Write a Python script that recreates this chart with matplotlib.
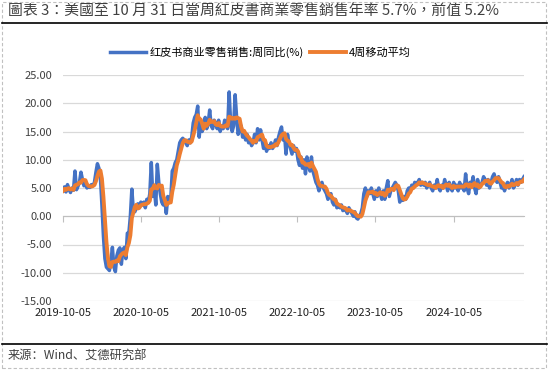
import numpy as np
import pandas as pd
import matplotlib
matplotlib.use('Agg')
import matplotlib.pyplot as plt
from matplotlib.patches import Rectangle
from matplotlib.lines import Line2D

plt.rcParams['font.family'] = ['Noto Sans CJK SC', 'DejaVu Sans']

# 数据: 红皮书商业零售销售周同比 (%), 每周一个点, 起始 2019-10-05
start_date = '2019-10-05'
redbook_yoy = [
    4.5, 5.2, 4.3, 5.6, 4.8, 4.2, 5.0, 4.6, 8.0, 4.7, 5.3, 6.0, 7.8,
    6.5, 5.4, 5.8, 5.0, 5.3, 5.1, 5.6, 5.4, 6.0, 7.8, 9.3, 8.5, 6.8,
    2.0, -3.5, -7.5, -9.0, -9.3, -9.6, -8.0, -5.5, -9.0, -9.8, -7.0, -6.0, -5.6,
    -8.5, -6.0, -5.5, -7.5, -3.0, -3.0, 0.0, 4.8, 1.0, 0.8, 1.5, 2.2, 1.5,
    2.5, 2.0, 2.5, 1.5, 3.0, 2.5, 4.0, 9.5, 3.5, 5.0, 2.0, 9.2, 6.0,
    4.0, 2.5, 2.0, 3.0, 0.5, 3.5, 2.8, 3.0, 8.0, 8.5, 9.5, 10.0, 11.5,
    13.0, 13.5, 13.8, 13.5, 13.0, 12.5, 13.5, 13.0, 14.0, 16.5, 17.5, 18.0, 19.5,
    14.0, 17.0, 15.0, 16.0, 17.5, 15.5, 16.5, 18.8, 16.0, 15.5, 17.0, 16.5, 15.5,
    17.0, 15.0, 16.0, 15.5, 17.0, 16.0, 15.5, 22.0, 16.5, 15.0, 16.0, 21.5, 17.5,
    14.5, 15.5, 16.0, 14.0, 15.0, 13.5, 14.5, 13.0, 13.5, 12.5, 13.0, 14.5, 13.0,
    15.5, 13.5, 15.3, 13.5, 12.0, 13.0, 11.5, 12.5, 12.0, 13.0, 12.0, 12.5, 13.5,
    12.5, 14.0, 15.0, 15.8, 13.5, 14.5, 11.0, 14.5, 13.0, 12.0, 11.0, 12.5, 11.5,
    12.0, 10.0, 9.0, 10.5, 8.5, 10.0, 7.5, 10.5, 9.0, 8.0, 10.5, 8.0, 7.0,
    6.0, 5.5, 4.5, 5.5, 6.0, 5.0, 4.5, 4.0, 3.0, 3.5, 4.0, 2.5, 2.0,
    3.0, 1.5, 1.8, 1.5, 2.0, 1.0, 1.5, 1.0, 0.5, 1.5, 1.0, 0.5, 0.0,
    0.8, -0.3, -0.5, 0.0, 0.5, 1.5, 4.0, 5.0, 3.5, 4.5, 4.0, 5.0, 4.0,
    3.0, 4.5, 3.5, 5.0, 4.0, 3.0, 4.5, 3.0, 5.0, 6.3, 3.5, 4.5, 5.0,
    5.5, 6.0, 5.5, 4.5, 2.5, 3.0, 2.8, 3.5, 3.0, 4.5, 5.0, 4.5, 5.5,
    5.0, 6.0, 5.5, 6.0, 6.5, 5.5, 6.0, 5.5, 6.0, 5.0, 5.5, 6.0, 5.0,
    4.5, 5.5, 5.0, 6.5, 5.0, 4.5, 5.5, 5.0, 6.5, 5.5, 4.5, 6.0, 5.0,
    4.5, 6.0, 5.0, 5.5, 4.5, 6.0, 5.0, 5.5, 4.5, 7.5, 5.0, 4.0, 6.0,
    5.5, 7.0, 5.0, 4.0, 6.5, 5.0, 5.5, 6.0, 7.0, 6.5, 5.5, 6.5, 5.0,
    6.0, 7.0, 7.5, 6.5, 6.0, 7.0, 6.0, 5.0, 5.5, 4.5, 5.5, 6.0, 5.0,
    5.5, 6.5, 5.0, 5.5, 6.5, 5.5, 6.5, 6.0, 6.5, 7.0,
]
tick_labels = ['2019-10-05', '2020-10-05', '2021-10-05', '2022-10-05', '2023-10-05', '2024-10-05']
y_ticks = [25, 20, 15, 10, 5, 0, -5, -10, -15]

dates = pd.date_range(start_date, periods=len(redbook_yoy), freq='7D')
s = pd.Series(redbook_yoy, index=dates)
ma4 = s.rolling(4, min_periods=1).mean()  # 4周移动平均

fig = plt.figure(figsize=(5.49, 3.70), dpi=100)
ax = fig.add_axes([63/549, 1-301/370, (524-63)/549, (301-75)/370])

ax.plot(dates, s.values, color='#4472C4', linewidth=2.5, label='红皮书商业零售销售:周同比(%)', zorder=3)
ax.plot(dates, ma4.values, color='#ED7D31', linewidth=2.8, label='4周移动平均', zorder=4)

ax.set_ylim(-15, 25)
ax.set_yticks(y_ticks)
ax.set_yticklabels(['%.2f' % v for v in y_ticks], fontsize=8, color='#404040')
ax.yaxis.grid(True, color='#d9d9d9', linewidth=0.9)
ax.set_axisbelow(True)
ax.tick_params(axis='y', length=0, pad=8)

ticks = pd.to_datetime(tick_labels)
ax.set_xlim(dates[0], dates[-1])
ax.set_xticks(ticks)
ax.tick_params(axis='x', labelbottom=False, direction='out', length=4, color='#bfbfbf')
for sp in ['top', 'right', 'left']:
    ax.spines[sp].set_visible(False)
ax.spines['bottom'].set_position(('data', 0))
ax.spines['bottom'].set_color('#bfbfbf')

sec = ax.secondary_xaxis(0.0)
sec.set_xticks(ticks)
sec.set_xticklabels(tick_labels, fontsize=8, color='#202020')
sec.tick_params(length=0, pad=5)
sec.spines['bottom'].set_visible(False)

# 图例
fig.legend(loc='center', bbox_to_anchor=(0.475, 1-52/370), ncol=2, frameon=False,
           fontsize=8, handlelength=3.2, handletextpad=0.3, columnspacing=0.6)

# 标题, 分隔线, 来源, 虚线框
fig.text(8/549, 1-12/370, '圖表 3：美國至 10 月 31 日當周紅皮書商業零售銷售年率 5.7%，前值 5.2%',
         fontsize=10.7, color='#404040', va='center', ha='left',
         family=['Noto Sans CJK TC', 'DejaVu Sans'])
fig.add_artist(Line2D([2/549, 547/549], [1-23/370, 1-23/370], color='black', linewidth=1.2))
fig.add_artist(Line2D([2/549, 547/549], [1-344/370, 1-344/370], color='black', linewidth=1.2))
fig.text(8/549, 1-355/370, '来源：Wind、艾德研究部', fontsize=8.8, color='#404040',
         va='center', ha='left')
fig.add_artist(Rectangle((2/549, 2/370), 544/549, 366/370, transform=fig.transFigure,
                         fill=False, edgecolor='#c0c0c0', linestyle=(0, (3, 2)), linewidth=0.8))

fig.savefig('out.png', dpi=100)
